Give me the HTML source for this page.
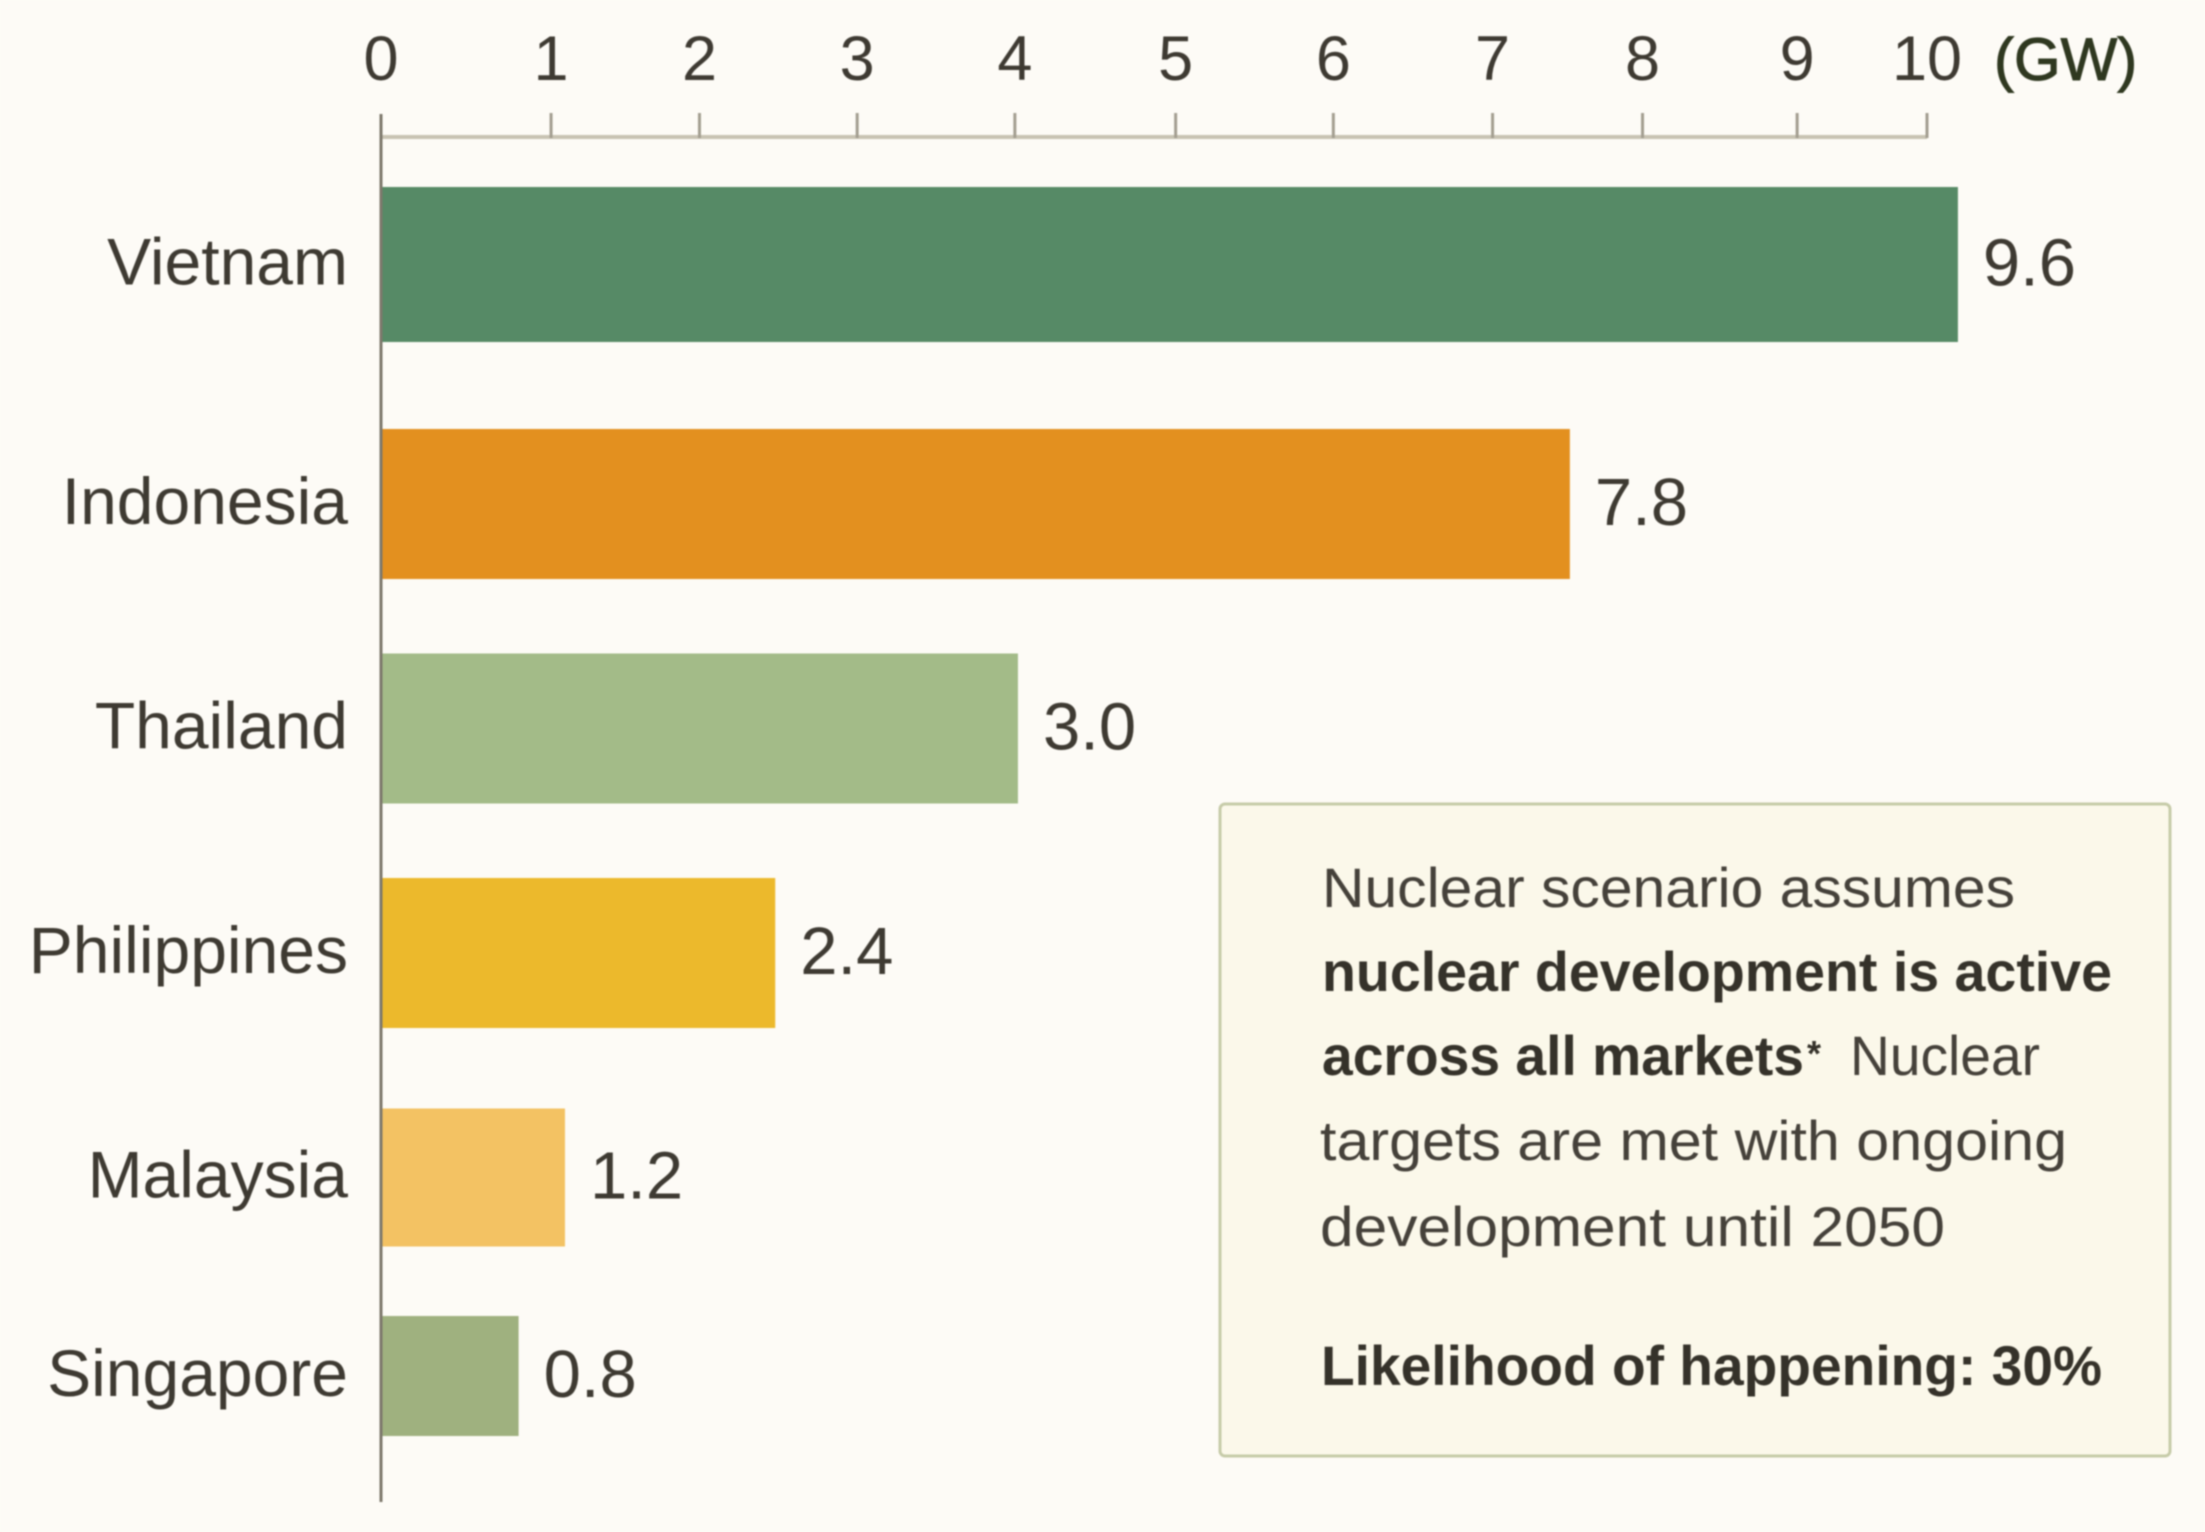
<!DOCTYPE html>
<html lang="en">
<head>
<meta charset="utf-8">
<title>Nuclear scenario capacity by market</title>
<style>
  html, body { margin: 0; padding: 0; background: #fdfbf6; }
  body { width: 2205px; height: 1532px; overflow: hidden; }
  svg { display: block; filter: blur(0.9px); font-family: "Liberation Sans", "DejaVu Sans", sans-serif; }
</style>
</head>
<body>
<svg id="chart" xmlns="http://www.w3.org/2000/svg" width="2205" height="1532" viewBox="0 0 2205 1532">
  <rect x="0" y="0" width="2205" height="1532" fill="#fdfbf6"/>
  <g id="plot"></g>
  <g>
    <rect x="1220" y="804" width="950" height="652" rx="5" fill="#fbf8ea" stroke="#c6cba8" stroke-width="3"/>
    <g font-size="56" fill="#45413a">
      <text x="1322" y="907" textLength="693" lengthAdjust="spacingAndGlyphs">Nuclear scenario assumes</text>
      <text x="1322" y="991" textLength="790" lengthAdjust="spacingAndGlyphs" font-weight="700" fill="#35322a">nuclear development is active</text>
      <text x="1322" y="1075" textLength="482" lengthAdjust="spacingAndGlyphs" font-weight="700" fill="#35322a">across all markets</text>
      <text x="1807" y="1066" font-size="36" font-weight="700" fill="#35322a">*</text>
      <text x="1850" y="1075" textLength="190" lengthAdjust="spacingAndGlyphs">Nuclear</text>
      <text x="1320" y="1160" textLength="747" lengthAdjust="spacingAndGlyphs">targets are met with ongoing</text>
      <text x="1320" y="1246" textLength="625" lengthAdjust="spacingAndGlyphs">development until 2050</text>
      <text x="1321" y="1385" textLength="781" lengthAdjust="spacingAndGlyphs" font-weight="700" fill="#35322a">Likelihood of happening: 30%</text>
    </g>
  </g>
</svg>
<script>
// Chart data
const categories = ["Vietnam", "Indonesia", "Thailand", "Philippines", "Malaysia", "Singapore"];
// Bar lengths as drawn against the axis, in GW
const barValues = [10.2, 7.69, 4.12, 2.55, 1.19, 0.89];
// Values as printed beside each bar
const printedValues = ["9.6", "7.8", "3.0", "2.4", "1.2", "0.8"];
const tickLabels = ["0", "1", "2", "3", "4", "5", "6", "7", "8", "9", "10"];
// Where each tick sits along the axis, in GW (the source ticks are unevenly spaced)
const tickValues = [0, 1.10, 2.06, 3.08, 4.10, 5.14, 6.16, 7.19, 8.16, 9.16, 10];
const barColors = ["#568a66", "#e3901f", "#a3bb88", "#ecb92c", "#f3c263", "#9fb17f"];

// Axis functions
const AXIS_X0 = 381, PX_PER_GW = 154.6;
function x(v) { return AXIS_X0 + v * PX_PER_GW; }
// Rows are evenly pitched, except that the first and last rows sit closer in
function rowCenter(i) {
  const n = categories.length;
  const base = 279.5 + 224.5 * i;
  if (i === 0) return base - 15;
  if (i === n - 1) return base - 26;
  return base;
}
// Rows keep a constant thickness, then narrow towards the bottom
function rowHeight(i) {
  if (i === 0) return 155;
  if (i < 4) return 150;
  return 138 - 18 * (i - 4);
}

const NS = "http://www.w3.org/2000/svg";
const plot = document.getElementById("plot");
function make(tag, attrs, text) {
  const el = document.createElementNS(NS, tag);
  for (const k in attrs) el.setAttribute(k, attrs[k]);
  if (text !== undefined) el.textContent = text;
  plot.appendChild(el);
  return el;
}

// Top axis line
const xAxisLine = make("line", { x1: x(0), x2: x(10), y1: 137, y2: 137, stroke: "#c8c3b3", "stroke-width": 4 });



// Ticks and tick labels
tickValues.forEach(function (v, i) {
  if (i > 0) {
    const tick = make("line", { x1: x(v), x2: x(v), y1: 113, y2: 138, stroke: "#a39e90", "stroke-width": 3 });
    
    
  }
  const label = make("text", { x: x(v), y: 80, "text-anchor": "middle", "font-size": 63, fill: "#3e3a32" }, tickLabels[i]);
  
  
});

// Unit label
const unit = make("text", { x: 1994, y: 80, "font-size": 60, fill: "#2f3820", stroke: "#2f3820", "stroke-width": 1 }, "(GW)");



// Bars, category labels, value labels
categories.forEach(function (name, i) {
  const h = rowHeight(i), c = rowCenter(i);
  const bar = make("rect", { x: x(0), y: c - h / 2, width: x(barValues[i]) - x(0), height: h, fill: barColors[i] });
  
  

  const cat = make("text", { x: 348, y: c + 20, "text-anchor": "end", "font-size": 66, fill: "#3e3a32" }, name);
  
  

  const val = make("text", { x: x(barValues[i]) + 25, y: c + 21, "font-size": 67, fill: "#3e3a32" }, printedValues[i]);
  
  
});

// Vertical axis drawn over the bar starts
const yAxisLine = make("line", { x1: x(0), x2: x(0), y1: 114, y2: 1502, stroke: "#7d786c", "stroke-width": 3 });


</script>
</body>
</html>
